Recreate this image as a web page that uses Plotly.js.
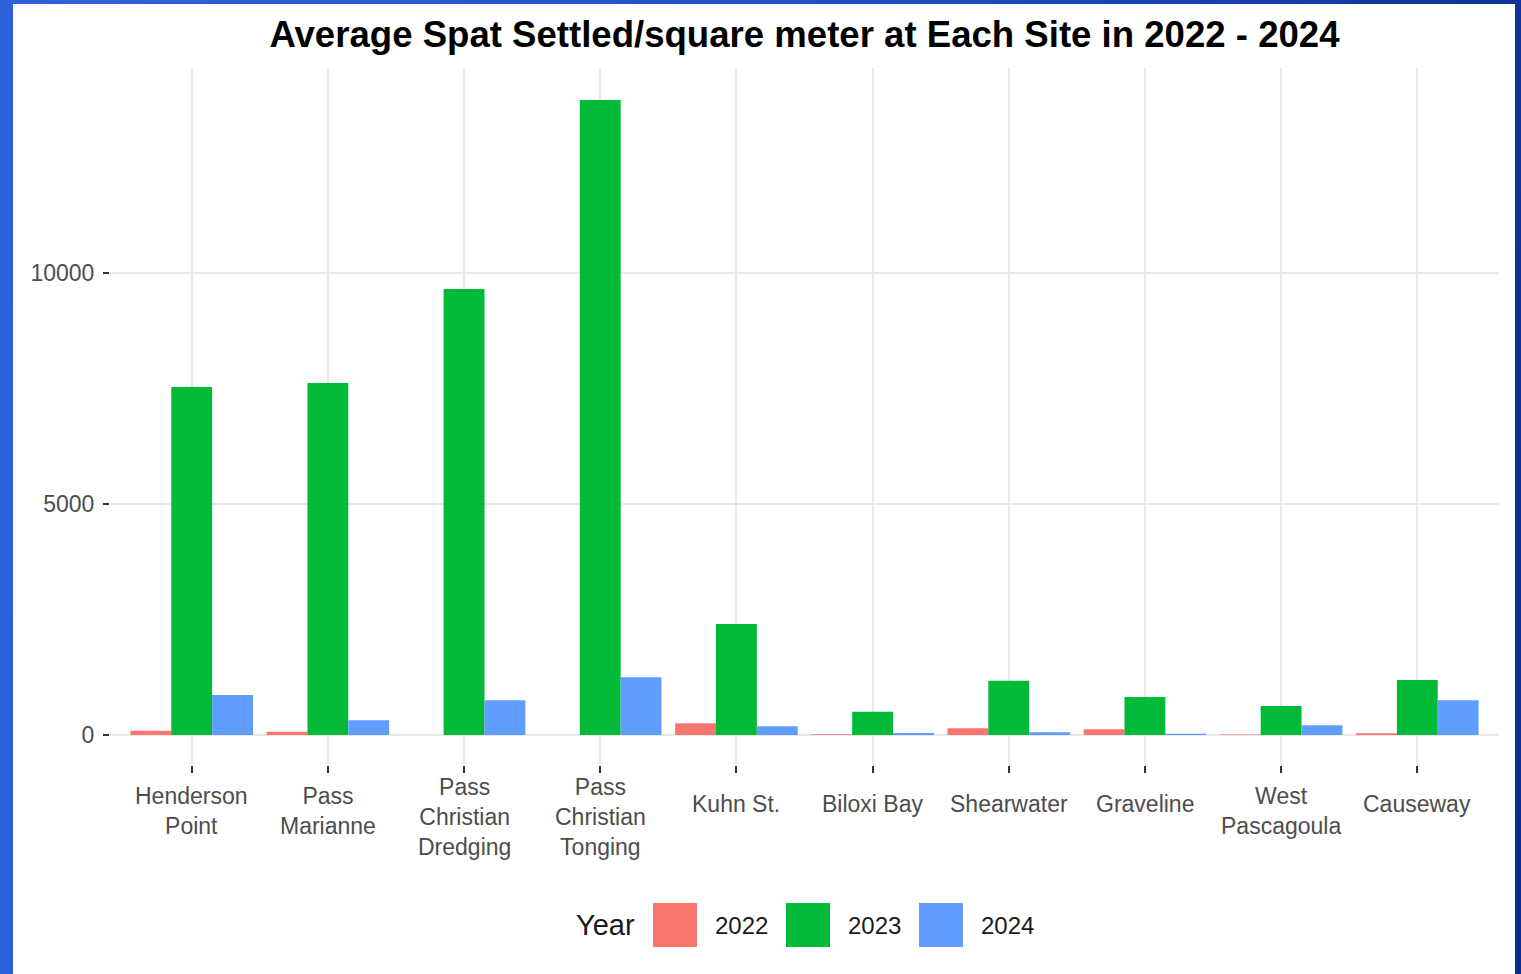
<!DOCTYPE html>
<html><head><meta charset="utf-8">
<script src="https://cdn.plot.ly/plotly-3.0.1.min.js"></script>
<style>
html,body{margin:0;padding:0;width:1521px;height:974px;overflow:hidden;}
body{background:linear-gradient(100deg,#2d63dc 0%,#2352c8 45%,#0b2b8f 100%);}
#chart{position:absolute;left:13px;top:4px;width:1502px;height:970px;background:#fff;}
</style></head><body><div id="chart"></div>
<script>
const sites = ["Henderson Point","Pass Marianne","Pass Christian Dredging","Pass Christian Tonging","Kuhn St.","Biloxi Bay","Shearwater","Graveline","West Pascagoula","Causeway"];
const siteLabels = ["Henderson<br>Point","Pass<br>Marianne","Pass<br>Christian<br>Dredging","Pass<br>Christian<br>Tonging","Kuhn St.","Biloxi Bay","Shearwater","Graveline","West<br>Pascagoula","Causeway"];
const years = ["2022","2023","2024"];
const spat2022 = [93, 71, 0, 0, 253, 15, 145, 123, 10, 37];
const spat2023 = [7532, 7619, 9654, 13745, 2403, 505, 1175, 822, 628, 1190];
const spat2024 = [866, 318, 751, 1249, 188, 43, 58, 28, 210, 751];
const yTicks = [0, 5000, 10000];
const yTickLabels = ["0", "5000", "10000"];
const yearColors = ["#F8766D", "#00BA38", "#619CFF"];
const series = [spat2022, spat2023, spat2024];

const FONT = "Liberation Sans, Arial, Helvetica, sans-serif";
const W = 1502, H = 970, OX = 13, OY = 4;
const M = {l: 97, r: 16, t: 64, b: 209};
const PW = W - M.l - M.r, PH = H - M.t - M.b;
const pX = x => (x - OX - M.l) / PW;
const pY = y => 1 - (y - OY - M.t) / PH;

const traces = years.map((yr, i) => ({
  type: 'bar', name: yr, x: sites, y: series[i],
  marker: {color: yearColors[i], line: {width: 0}},
  showlegend: false, hoverinfo: 'skip'
}));

const annotations = sites.map((s, i) => {
  const n = siteLabels[i].split('<br>').length;
  return {xref: 'x', yref: 'paper', x: s, y: 0, xanchor: 'center', yanchor: 'middle',
    yshift: -(39 + 6.5 * (n - 1)), text: siteLabels[i], showarrow: false,
    font: {family: FONT, size: 23, color: '#4d4d4d'}};
});

annotations.push({xref: 'paper', yref: 'paper', x: pX(574), y: pY(925), xanchor: 'left', yanchor: 'middle',
  text: 'Year', showarrow: false, font: {family: FONT, size: 29, color: '#1a1a1a'}});

const shapes = [];
years.forEach((yr, i) => {
  const kx = 653 + 133 * i;
  shapes.push({type: 'rect', xref: 'paper', yref: 'paper', x0: pX(kx), x1: pX(kx + 44), y0: pY(947), y1: pY(903),
    fillcolor: yearColors[i], line: {width: 0}});
  annotations.push({xref: 'paper', yref: 'paper', x: pX(kx + 60), y: pY(925), xanchor: 'left', yanchor: 'middle',
    text: yr, showarrow: false, font: {family: FONT, size: 24, color: '#1a1a1a'}});
});

const layout = {
  width: W, height: H,
  margin: M,
  paper_bgcolor: '#ffffff', plot_bgcolor: '#ffffff',
  barmode: 'group', bargap: 0.1, bargroupgap: 0,
  title: {text: '<b>Average Spat Settled/square meter at Each Site in 2022 - 2024</b>',
    x: 0.5, xref: 'paper', xanchor: 'center', y: 1 - 30 / H, yref: 'container', yanchor: 'middle',
    font: {family: FONT, size: 36.6, color: '#000000'}},
  xaxis: {type: 'category', range: [-0.6, 9.6], showgrid: true, gridcolor: '#e9e9e9', gridwidth: 2,
    ticks: 'outside', ticklen: 7, tickwidth: 2, tickcolor: '#333333', showticklabels: false,
    showline: false, zeroline: false, fixedrange: true},
  yaxis: {range: [-650, 14437], tickvals: yTicks, ticktext: yTickLabels, showgrid: true, gridcolor: '#e9e9e9', gridwidth: 2,
    ticks: 'outside', ticklen: 6, tickwidth: 2.5, tickcolor: '#333333', zeroline: false, showline: false,
    ticklabelstandoff: 4,
    tickfont: {family: FONT, size: 23, color: '#4d4d4d'}, fixedrange: true},
  annotations: annotations,
  shapes: shapes
};

Plotly.newPlot('chart', traces, layout, {displayModeBar: false, staticPlot: true});
</script></body></html>
